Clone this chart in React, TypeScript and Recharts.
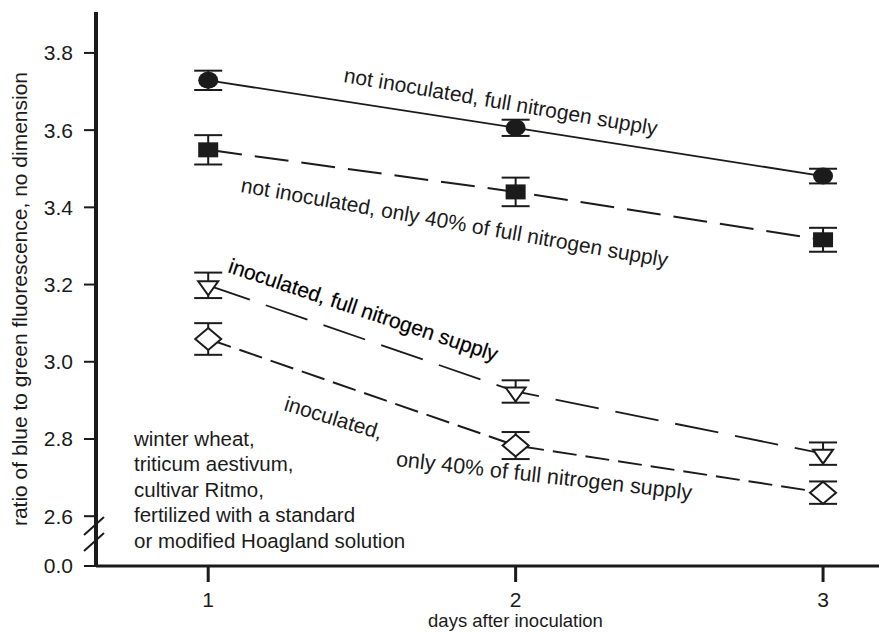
import { LineChart, Line, XAxis, YAxis, ErrorBar, ReferenceDot, ReferenceLine } from "recharts";

// days after inoculation
const days = [1, 2, 3];

// blue/green fluorescence ratio, means and error half-widths
const fullNitrogen = [3.729, 3.606, 3.481];
const fullNitrogenErr = [0.025, 0.021, 0.019];
const lowNitrogen = [3.549, 3.44, 3.316];
const lowNitrogenErr = [0.038, 0.037, 0.031];
const inocFullNitrogen = [3.198, 2.923, 2.762];
const inocFullNitrogenErr = [0.033, 0.029, 0.029];
const inocLowNitrogen = [3.059, 2.783, 2.661];
const inocLowNitrogenErr = [0.041, 0.035, 0.029];

// the axis is broken below 2.6; "0.0" sits at this value on the scale
const BREAK_VALUE = 2.471;
const dayTicks = [1, 2, 3];
const ratioTicks = [BREAK_VALUE, 2.6, 2.8, 3.0, 3.2, 3.4, 3.6, 3.8];

const plantNote = [
  "winter wheat,",
  "triticum aestivum,",
  "cultivar Ritmo,",
  "fertilized with a standard",
  "or modified Hoagland solution",
];

const data = days.map((day, i) => ({
  day,
  fullN: fullNitrogen[i],
  fullNErr: fullNitrogenErr[i],
  lowN: lowNitrogen[i],
  lowNErr: lowNitrogenErr[i],
  inocFullN: inocFullNitrogen[i],
  inocFullNErr: inocFullNitrogenErr[i],
  inocLowN: inocLowNitrogen[i],
  inocLowNErr: inocLowNitrogenErr[i],
}));

// slanted series captions: anchor (data coords) + rotation
const captions = [
  { text: "not inoculated, full nitrogen supply", x: 1.4385, y: 3.7247, angle: 9.7, size: 21, bold: false },
  { text: "not inoculated, only 40% of full nitrogen supply", x: 1.1034, y: 3.4398, angle: 10, size: 21, bold: false },
  { text: "inoculated, full nitrogen supply", x: 1.0612, y: 3.2326, angle: 18.5, size: 21, bold: true },
  { text: "inoculated,", x: 1.2433, y: 2.8752, angle: 17, size: 21, bold: false },
  { text: "only 40% of full nitrogen supply", x: 1.6092, y: 2.7301, angle: 6.5, size: 21.5, bold: false },
];

const FONT = '"Liberation Sans", Arial, Helvetica, sans-serif';
const INK = "#1b1b1b";

const anchorPoint = (vb: any) => ({ x: vb.x + vb.width / 2, y: vb.y + vb.height / 2 });

const FilledCircle = (p: any) =>
  p.cx == null ? null : <ellipse key={`c${p.index}`} cx={p.cx} cy={p.cy} rx={10} ry={8.5} fill={INK} />;

const FilledSquare = (p: any) =>
  p.cx == null ? null : <rect key={`s${p.index}`} x={p.cx - 10} y={p.cy - 7.5} width={20} height={15} fill={INK} />;

const OpenTriangle = (p: any) =>
  p.cx == null ? null : (
    <polygon
      key={`t${p.index}`}
      points={`${p.cx - 10},${p.cy - 4} ${p.cx + 10},${p.cy - 4} ${p.cx},${p.cy + 10}`}
      fill="#fff"
      stroke={INK}
      strokeWidth={2}
    />
  );

const OpenDiamond = (p: any) =>
  p.cx == null ? null : (
    <polygon
      key={`d${p.index}`}
      points={`${p.cx},${p.cy - 11} ${p.cx + 13},${p.cy} ${p.cx},${p.cy + 11} ${p.cx - 13},${p.cy}`}
      fill="#fff"
      stroke={INK}
      strokeWidth={2}
    />
  );

export default function App() {
  return (
    <div style={{ position: "absolute", left: 0, top: 0, background: "#fff" }}>
      <LineChart width={879} height={633} data={data} margin={{ top: 12, right: 0, bottom: 0, left: 0 }}>
        <XAxis
          type="number"
          dataKey="day"
          domain={[0.635, 3.182]}
          ticks={dayTicks}
          allowDataOverflow
          height={67}
          axisLine={{ stroke: INK, strokeWidth: 3 }}
          tickLine={{ stroke: INK, strokeWidth: 3 }}
          tickSize={16}
          tickMargin={10}
          tick={{ fill: INK, fontSize: 21, fontFamily: FONT }}
          label={(props: any) => {
            const vb = props.viewBox;
            return (
              <text x={vb.x + vb.width / 2 + 28} y={627} textAnchor="middle" fontSize={18.5} fontFamily={FONT} fill={INK}>
                days after inoculation
              </text>
            );
          }}
        />
        <YAxis
          type="number"
          domain={[BREAK_VALUE, 3.906]}
          ticks={ratioTicks}
          interval={0}
          allowDataOverflow
          width={96}
          axisLine={{ stroke: INK, strokeWidth: 4 }}
          tickLine={{ stroke: INK, strokeWidth: 2 }}
          tickSize={12}
          tickMargin={11}
          tick={{ fill: INK, fontSize: 21, fontFamily: FONT }}
          tickFormatter={(v: number) => (v < 2.5 ? "0.0" : v.toFixed(1))}
          label={(props: any) => {
            const vb = props.viewBox;
            const x = vb.x + 19;
            const y = vb.y + vb.height / 2 + 10;
            return (
              <text x={x} y={y} transform={`rotate(-90 ${x} ${y})`} textAnchor="middle" dominantBaseline="central" fontSize={21} fontFamily={FONT} fill={INK}>
                ratio of blue to green fluorescence, no dimension
              </text>
            );
          }}
        />

        {/* axis break: white gap + two slashes */}
        <ReferenceLine segment={[{ x: 0.635, y: 2.5592 }, { x: 0.635, y: 2.5255 }]} stroke="#fff" strokeWidth={7} ifOverflow="visible" />
        <ReferenceLine segment={[{ x: 0.596, y: 2.5514 }, { x: 0.661, y: 2.598 }]} stroke={INK} strokeWidth={2} ifOverflow="visible" />
        <ReferenceLine segment={[{ x: 0.596, y: 2.51 }, { x: 0.661, y: 2.5566 }]} stroke={INK} strokeWidth={2} ifOverflow="visible" />

        <Line type="linear" dataKey="fullN" stroke={INK} strokeWidth={1.8} dot={FilledCircle} activeDot={false} isAnimationActive={false}>
          <ErrorBar dataKey="fullNErr" width={14} stroke={INK} strokeWidth={2} direction="y" />
        </Line>
        <Line type="linear" dataKey="lowN" stroke={INK} strokeWidth={2} strokeDasharray="34 13" dot={FilledSquare} activeDot={false} isAnimationActive={false}>
          <ErrorBar dataKey="lowNErr" width={14} stroke={INK} strokeWidth={2} direction="y" />
        </Line>
        <Line type="linear" dataKey="inocFullN" stroke={INK} strokeWidth={1.8} strokeDasharray="44 17" dot={OpenTriangle} activeDot={false} isAnimationActive={false}>
          <ErrorBar dataKey="inocFullNErr" width={14} stroke={INK} strokeWidth={2} direction="y" />
        </Line>
        <Line type="linear" dataKey="inocLowN" stroke={INK} strokeWidth={2} strokeDasharray="24 9" dot={OpenDiamond} activeDot={false} isAnimationActive={false}>
          <ErrorBar dataKey="inocLowNErr" width={14} stroke={INK} strokeWidth={2} direction="y" />
        </Line>

        {captions.map((c) => (
          <ReferenceDot
            key={c.text}
            x={c.x}
            y={c.y}
            r={1}
            fill="none"
            stroke="none"
            ifOverflow="visible"
            label={(props: any) => {
              const p = anchorPoint(props.viewBox);
              return (
                <text
                  x={p.x}
                  y={p.y}
                  transform={`rotate(${c.angle} ${p.x} ${p.y})`}
                  fontSize={c.size}
                  fontFamily={FONT}
                  fill={c.bold ? "#000" : INK}
                  stroke={c.bold ? "#000" : "none"}
                  strokeWidth={c.bold ? 0.2 : 0}
                >
                  {c.text}
                </text>
              );
            }}
          />
        ))}

        <ReferenceDot
          x={0.7586}
          y={2.7819}
          r={1}
          fill="none"
          stroke="none"
          ifOverflow="visible"
          label={(props: any) => {
            const p = anchorPoint(props.viewBox);
            return (
              <text x={p.x} y={p.y} fontSize={20.5} fontFamily={FONT} fill={INK}>
                {plantNote.map((line, i) => (
                  <tspan key={line} x={p.x} dy={i === 0 ? 0 : 25.5}>
                    {line}
                  </tspan>
                ))}
              </text>
            );
          }}
        />
      </LineChart>
    </div>
  );
}
